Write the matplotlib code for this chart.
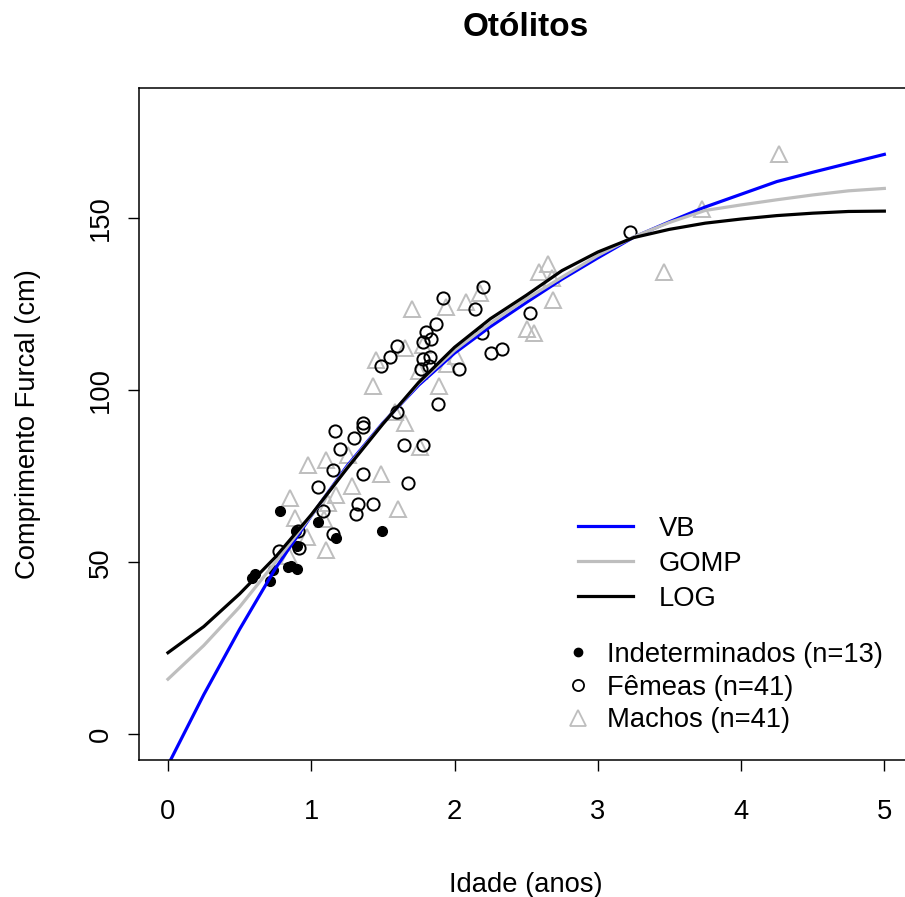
import matplotlib
matplotlib.use("Agg")
import matplotlib.pyplot as plt
from matplotlib.lines import Line2D

plt.rcParams['font.family'] = ['Liberation Sans', 'DejaVu Sans']

# Fitted growth curves (length in cm at age in years)
age_grid = [0.0, 0.25, 0.5, 0.75, 1.0, 1.25, 1.5, 1.75, 2.0, 2.25, 2.5,
            2.75, 3.0, 3.25, 3.5, 3.75, 4.0, 4.25, 4.5, 4.75, 5.0]
vb_len = [-9.0, 11.5, 30.5, 48.2, 63.5, 78.0, 90.5, 101.5, 110.8, 118.5, 125.5,
          132.3, 138.5, 144.5, 149.0, 153.3, 157.0, 160.7, 163.4, 166.0, 168.6]
gomp_len = [16.0, 25.8, 37.0, 50.0, 63.6, 77.6, 90.3, 102.0, 111.6, 119.5, 126.5,
            132.9, 139.2, 144.6, 148.8, 152.3, 153.9, 155.4, 156.8, 158.0, 158.7]
log_len = [23.7, 31.3, 40.8, 51.5, 63.8, 77.3, 90.2, 102.3, 112.5, 120.8, 127.6,
           134.8, 140.2, 144.4, 146.8, 148.6, 149.8, 150.8, 151.5, 152.0, 152.1]

# Observed ages and fork lengths
indet_age = [0.607, 0.586, 0.712, 0.733, 0.782, 1.047, 0.893, 1.176, 0.900,
             0.862, 0.900, 1.491, 0.837]
indet_len = [46.6, 45.4, 44.6, 47.8, 64.8, 61.7, 59.2, 57.1, 54.6,
             48.8, 48.1, 59.1, 48.6]

fem_age = [3.224, 2.202, 1.919, 2.142, 2.526, 1.870, 2.189, 1.798, 1.835, 1.782,
           1.596, 1.549, 1.486, 1.832, 1.782, 1.825, 1.766, 2.031, 2.254, 2.329,
           1.882, 1.598, 1.363, 1.363, 1.165, 1.300, 1.647, 1.782, 1.200, 1.154,
           1.361, 1.673, 1.049, 1.080, 1.324, 1.433, 1.312, 1.151, 0.775, 0.913,
           0.907]
fem_len = [146.1, 130.0, 126.8, 123.6, 122.4, 119.3, 116.7, 117.0, 114.9, 114.0,
           112.9, 109.7, 107.2, 109.8, 109.0, 107.2, 106.3, 106.3, 110.9, 111.9,
           96.0, 93.8, 90.4, 89.2, 88.2, 86.0, 84.1, 84.1, 82.9, 76.8,
           75.7, 73.1, 72.0, 64.9, 66.9, 66.9, 64.0, 58.2, 53.4, 54.1,
           59.1]

mac_age = [4.266, 3.724, 3.461, 2.654, 2.588, 2.680, 2.689, 2.503, 2.554, 2.177,
           2.083, 1.940, 1.701, 1.654, 1.782, 1.452, 2.013, 1.945, 1.893, 1.428,
           1.584, 1.654, 1.759, 1.490, 1.605, 1.258, 1.103, 0.979, 1.282, 1.171,
           0.855, 0.890, 1.091, 0.970, 1.103, 0.848, 1.754, 1.114]
mac_len = [168.6, 152.7, 134.5, 136.7, 134.5, 132.6, 126.4, 117.8, 116.6, 128.2,
           125.7, 124.3, 123.5, 112.3, 113.2, 108.7, 110.0, 107.6, 101.3, 101.3,
           93.8, 90.5, 83.4, 75.7, 65.6, 81.2, 79.7, 78.4, 72.3, 69.6,
           68.7, 62.8, 62.5, 57.4, 53.7, 51.8, 105.7, 67.2]

x_ticks = [0, 1, 2, 3, 4, 5]
y_ticks = [0, 50, 100, 150]

GREY = '#bebebe'
BLUE = '#0000ff'
FS = 19.7

W, H = 905, 897
fig = plt.figure(figsize=(W / 100, H / 100), dpi=100)
ax = fig.add_axes([139.3 / W, (H - 760) / H, (913 - 139.3) / W, (760 - 88) / H])

ax.plot(mac_age, mac_len, linestyle='none', marker='^', markersize=11,
        markerfacecolor='none', markeredgecolor=GREY, markeredgewidth=1.4)
ax.plot(fem_age, fem_len, linestyle='none', marker='o', markersize=8.8,
        markerfacecolor='none', markeredgecolor='black', markeredgewidth=1.4)
ax.plot(indet_age, indet_len, linestyle='none', marker='o', markersize=7,
        markerfacecolor='black', markeredgecolor='black')

ax.plot(age_grid, vb_len, color=BLUE, lw=2.3)
ax.plot(age_grid, gomp_len, color=GREY, lw=2.3)
ax.plot(age_grid, log_len, color='black', lw=2.3)

ax.set_xlim(-0.2, 5.2)
ax.set_ylim(-7.5, 187.9)
ax.set_xticks(x_ticks)
ax.set_yticks(y_ticks)
ax.set_xticklabels([str(v) for v in x_ticks], fontsize=FS)
ax.set_yticklabels([str(v) for v in y_ticks], fontsize=FS, rotation=90,
                   va='center')
ax.tick_params(direction='out', length=8, width=1)
ax.tick_params(axis='x', pad=20)
ax.tick_params(axis='y', pad=10)
for sp in ax.spines.values():
    sp.set_linewidth(1.1)

ax.set_xlabel('Idade (anos)', fontsize=FS, labelpad=34)
ax.set_ylabel('Comprimento Furcal (cm)', fontsize=FS, labelpad=34)
fig.text(526 / W, 1 - 28 / H, 'Otólitos', fontsize=24, fontweight='bold',
         ha='center', va='center')

line_handles = [Line2D([], [], color=BLUE, lw=2.3),
                Line2D([], [], color=GREY, lw=2.3),
                Line2D([], [], color='black', lw=2.3)]
fig.legend(line_handles, ['VB', 'GOMP', 'LOG'], loc='upper left',
           bbox_to_anchor=(578 / W, 1 - 516 / H), frameon=False,
           fontsize=FS, handlelength=2.0, handletextpad=0.96,
           labelspacing=0.32, borderpad=0, borderaxespad=0)

pt_handles = [Line2D([], [], linestyle='none', marker='o', markersize=6,
                     color='black'),
              Line2D([], [], linestyle='none', marker='o', markersize=8,
                     markerfacecolor='none', markeredgecolor='black',
                     markeredgewidth=1.3),
              Line2D([], [], linestyle='none', marker='^', markersize=11,
                     markerfacecolor='none', markeredgecolor=GREY,
                     markeredgewidth=1.3)]
fig.legend(pt_handles, ['Indeterminados (n=13)', 'Fêmeas (n=41)',
                        'Machos (n=41)'],
           loc='upper left', bbox_to_anchor=(570 / W, 1 - 642 / H),
           frameon=False, fontsize=FS, handlelength=0.6,
           handletextpad=0.77, labelspacing=0.24, borderpad=0,
           borderaxespad=0)

fig.savefig('out.png', dpi=100)
